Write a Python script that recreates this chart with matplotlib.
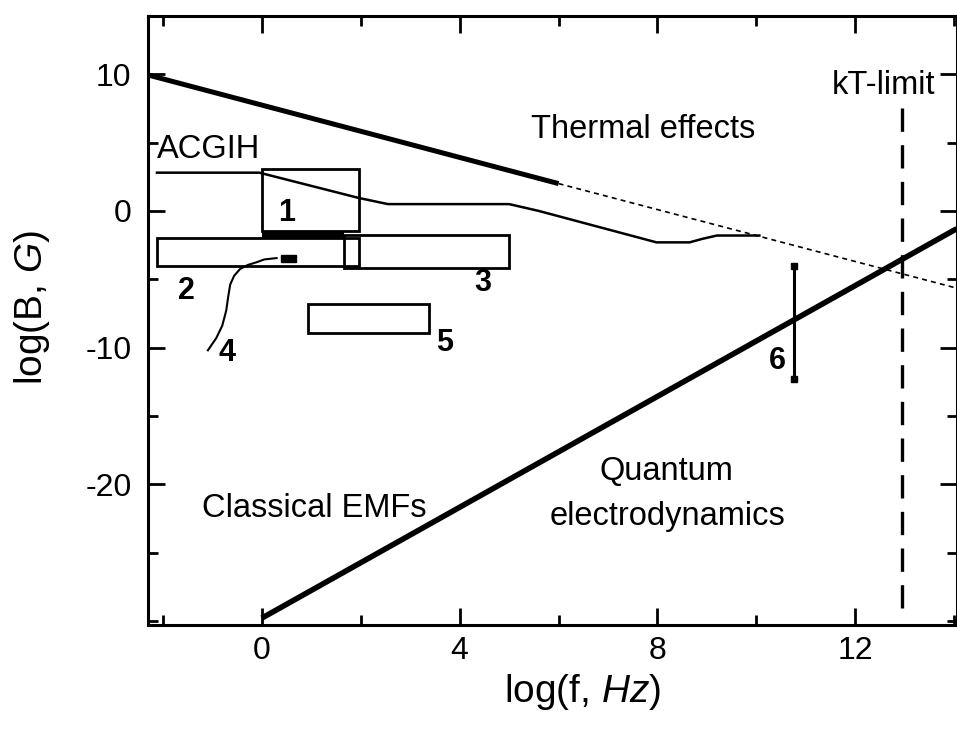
import matplotlib
matplotlib.use("Agg")
import matplotlib.pyplot as plt
from matplotlib.patches import Rectangle
from matplotlib.ticker import MultipleLocator, FixedLocator

plt.rcParams['font.family'] = ['Liberation Sans', 'DejaVu Sans']
plt.rcParams['mathtext.fontset'] = 'custom'
plt.rcParams['mathtext.rm'] = 'Liberation Sans'
plt.rcParams['mathtext.it'] = 'Liberation Sans:italic'
plt.rcParams['axes.unicode_minus'] = False

# thermal limit: solid part and dotted extrapolation
thermal_x = [-2.3, 6.0]
thermal_y = [9.95, 2.0]
thermal_ext_x = [6.0, 14.05]
thermal_ext_y = [2.0, -5.65]

# quantum electrodynamics limit
qed_x = [0.0, 14.05]
qed_y = [-29.8, -1.3]

# ACGIH exposure limit
acgih_x = [-2.12, -0.05, 1.96, 2.55, 5.0, 5.6, 7.98, 8.65, 8.9, 9.2, 10.06]
acgih_y = [2.8, 2.8, 0.95, 0.5, 0.5, 0.0, -2.3, -2.3, -2.05, -1.8, -1.8]

# kT-limit
kt_x = 12.95
kt_y = [7.5, -29.4]

# boxes 1, 2, 3, 5
box_x0 = [0.0, -2.12, 1.66, 0.93]
box_x1 = [1.96, 1.96, 5.0, 3.38]
box_y0 = [-1.46, -4.0, -4.15, -8.9]
box_y1 = [3.1, -1.95, -1.75, -6.8]

# curve 4
c4_x = [-1.09, -0.92, -0.80, -0.72, -0.68, -0.64, -0.56, -0.44, -0.28, -0.10, 0.05, 0.3]
c4_y = [-10.2, -9.3, -8.4, -7.3, -6.3, -5.4, -4.75, -4.25, -3.95, -3.75, -3.55, -3.45]
c4_end = [0.38, 0.70, -3.75, -3.2]  # x0, x1, y0, y1

# vertical bar 6
bar6_x = [10.77, 10.77]
bar6_y = [-4.0, -12.3]

# number labels
num_text = ['1', '2', '3', '4', '5', '6']
num_x = [0.5, -1.52, 4.46, -0.71, 3.70, 10.42]
num_y = [-0.15, -5.84, -5.26, -10.4, -9.7, -10.95]

fig = plt.figure(figsize=(9.57, 7.29), dpi=100)
ax = fig.add_axes([0.1547, 0.1427, 0.845, 0.836])

ax.plot(thermal_x, thermal_y, color='black', lw=3.6, solid_capstyle='butt')
ax.plot(thermal_ext_x, thermal_ext_y, color='black', lw=1.2, ls=(0, (3, 2.5)))
ax.plot(qed_x, qed_y, color='black', lw=4, solid_capstyle='butt')
ax.plot(acgih_x, acgih_y, color='black', lw=1.8)
ax.plot([kt_x, kt_x], kt_y, color='black', lw=2.4, ls=(0, (7, 4)))

for x0, x1, y0, y1 in zip(box_x0, box_x1, box_y0, box_y1):
    ax.add_patch(Rectangle((x0, y0), x1 - x0, y1 - y0, fill=False,
                           edgecolor='black', lw=2))
# dark band between box 1 and box 2
ax.fill_between([box_x0[0], box_x0[2]], box_y1[1], box_y0[0], color='black', lw=0)

ax.plot(c4_x, c4_y, color='black', lw=1.5)
ax.add_patch(Rectangle((c4_end[0], c4_end[2]), c4_end[1] - c4_end[0],
                       c4_end[3] - c4_end[2], color='black'))

ax.plot(bar6_x, bar6_y, color='black', lw=2.2, marker='s', markersize=5)

for t, x, y in zip(num_text, num_x, num_y):
    ax.text(x, y, t, fontsize=22, fontweight='bold', ha='center', va='center')

ax.text(5.45, 5.33, 'Thermal effects', fontsize=23.5)
ax.text(-2.12, 3.87, 'ACGIH', fontsize=23.5)
ax.text(11.52, 8.54, 'kT-limit', fontsize=23.5)
ax.text(-1.21, -22.4, 'Classical EMFs', fontsize=23.5)
ax.text(6.83, -19.7, 'Quantum', fontsize=23.5)
ax.text(5.82, -23.0, 'electrodynamics', fontsize=23.5)

ax.set_xlim(-2.3, 14.05)
ax.set_ylim(-30.3, 14.3)
ax.xaxis.set_major_locator(MultipleLocator(4))
ax.xaxis.set_minor_locator(MultipleLocator(2))
ax.yaxis.set_major_locator(FixedLocator([-20, -10, 0, 10]))
ax.yaxis.set_minor_locator(MultipleLocator(5))
ax.tick_params(which='both', direction='in', top=True, right=True, width=2)
ax.tick_params(which='major', length=12, labelsize=23)
ax.tick_params(which='minor', length=7)
ax.tick_params(axis='x', pad=8)
ax.tick_params(axis='y', pad=12)
for s in ax.spines.values():
    s.set_linewidth(2.2)

ax.set_xlabel('log(f, $\\mathit{Hz}$)', fontsize=28)
ax.set_ylabel('log(B, $\\mathit{G}$)', fontsize=28)
ax.xaxis.set_label_coords(0.538, -0.077)
ax.yaxis.set_label_coords(-0.119, 0.521)

fig.savefig('out.png', dpi=100)
